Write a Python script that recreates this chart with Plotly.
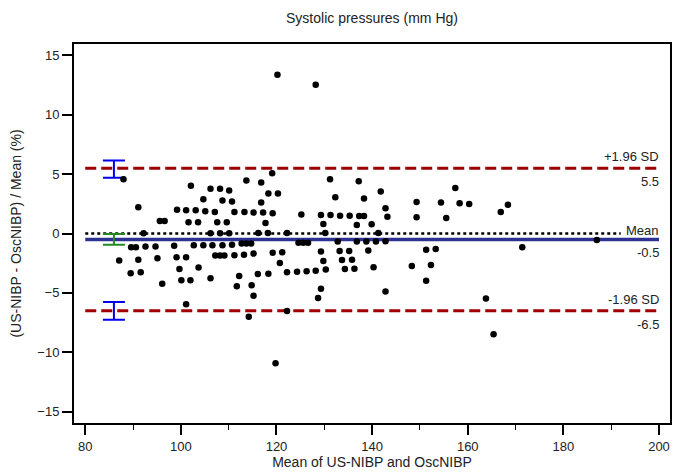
import plotly.graph_objects as go

# Scatter data: mean of the two methods (x) and percentage difference (y)
mean_bp = [
    88.0, 102.1, 106.2, 108.2, 110.1, 104.7, 108.7, 110.7, 91.1, 99.2, 101.1, 103.1, 105.1, 107.1, 111.2,
    95.6, 96.6, 101.6, 103.6, 107.6, 109.6, 92.2, 106.2, 108.2, 110.1,
    89.6, 90.6, 92.6, 94.7, 98.6, 102.7, 104.7, 106.6, 108.7, 110.7,
    87.1, 91.1, 95.1, 99.1, 101.1, 107.2, 108.2, 109.1, 111.2,
    99.7, 103.7, 89.5, 91.6, 100.1, 102.0, 106.2, 111.7, 112.2, 96.1, 101.1,
    119.1, 113.7, 116.8, 131.2, 137.2, 118.3, 120.3, 116.8, 132.3, 138.3, 141.8, 142.8,
    113.3, 115.2, 117.2, 119.2, 125.2, 129.3, 131.3, 133.3, 135.3, 137.3, 138.3, 143.2,
    117.7, 129.8, 136.8, 139.9,
    116.2, 118.2, 122.2, 130.2, 141.3,
    112.7, 113.7, 114.7, 124.6, 125.6, 126.6, 132.8, 136.8, 138.8, 140.8, 142.8,
    113.2, 115.2, 119.2, 121.2, 129.3, 133.2, 135.2, 139.2,
    120.7, 129.8, 133.7, 135.8, 130.3, 134.3, 136.3, 140.3,
    116.1, 118.3, 122.2, 124.3, 126.3, 128.2,
    114.8, 115.2, 129.3, 128.7, 142.8, 114.2, 122.2,
    157.4, 149.3, 154.4, 158.3, 160.3, 168.4, 166.9, 149.3, 155.5,
    171.4, 151.3, 153.3, 148.3, 152.3, 151.3, 163.8,
    120.2, 128.2, 119.8, 165.4, 187.0,
]
diff_pct = [
    4.57, 4.01, 3.76, 3.76, 3.62, 2.89, 2.77, 2.69, 2.21, 1.99, 1.96, 1.96, 1.88, 1.82, 1.82,
    1.06, 1.06, 0.95, 0.95, 0.95, 0.95, 0.03, 0.02, 0.02, 0.03,
    -1.15, -1.15, -1.1, -1.1, -1.04, -0.99, -0.99, -0.99, -0.99, -0.95,
    -2.28, -2.2, -2.08, -2.0, -2.0, -1.86, -1.86, -1.86, -1.84,
    -2.98, -2.87, -3.35, -3.26, -3.93, -3.93, -3.77, -4.44, -3.57, -4.22, -5.96,
    5.08, 4.46, 4.29, 4.57, 4.4, 3.36, 3.36, 2.6, 3.06, 2.94, 3.53, 2.13,
    1.82, 1.76, 1.76, 1.71, 1.59, 1.55, 1.55, 1.5, 1.5, 1.48, 1.48, 1.42,
    0.89, 0.81, 0.72, 0.78,
    0.04, 0.04, 0.04, 0.04, 0.04,
    -0.85, -0.85, -0.85, -0.77, -0.77, -0.77, -0.68, -0.68, -0.68, -0.68, -0.66,
    -1.78, -1.69, -1.63, -1.58, -1.52, -1.47, -1.47, -1.44,
    -2.48, -2.31, -2.22, -2.2, -3.04, -2.98, -2.96, -2.84,
    -3.4, -3.38, -3.26, -3.21, -3.18, -3.13,
    -4.36, -5.23, -4.64, -5.43, -4.89, -7.0, -6.52,
    3.82, 2.66, 2.6, 2.55, 2.49, 2.41, 1.82, 1.37, 1.31,
    -1.15, -1.36, -1.3, -2.73, -2.65, -3.97, -5.48,
    13.36, 12.52, -10.93, -8.48, -0.54,
]

# Bland-Altman summary values
bias = -0.5
upper_loa = 5.5
lower_loa = -6.5
line_x = [80, 200]

# Confidence intervals (drawn at the left)
ci_x = 86
ci_centers = [5.42, -0.5, -6.52]
ci_half = [0.72, 0.45, 0.75]
ci_colors = ["#0000ee", "#228b22", "#0000ee"]

x_ticks = [80, 100, 120, 140, 160, 180, 200]
y_ticks = [-15, -10, -5, 0, 5, 10, 15]

FONT = "Liberation Sans, Arial, sans-serif"
RED = "#a00000"
NAVY = "#2e3192"

fig = go.Figure()

# zero line (dotted)
fig.add_trace(go.Scatter(x=[80, 192], y=[0, 0], mode="lines",
                         line=dict(color="black", width=2.5, dash="3px,3px"),
                         hoverinfo="skip", showlegend=False))
# mean line
fig.add_trace(go.Scatter(x=line_x, y=[bias, bias], mode="lines",
                         line=dict(color=NAVY, width=3.5),
                         hoverinfo="skip", showlegend=False))
# limits of agreement
for v in (upper_loa, lower_loa):
    fig.add_trace(go.Scatter(x=line_x, y=[v, v], mode="lines",
                             line=dict(color=RED, width=3, dash="11px,5px"),
                             hoverinfo="skip", showlegend=False))

# CI bars
for c, h, col in zip(ci_centers, ci_half, ci_colors):
    fig.add_trace(go.Scatter(x=[ci_x], y=[c], mode="markers",
                             marker=dict(size=1, color="rgba(0,0,0,0)"),
                             error_y=dict(type="data", array=[h], color=col,
                                          thickness=2, width=11),
                             hoverinfo="skip", showlegend=False))

# points
fig.add_trace(go.Scatter(x=mean_bp, y=diff_pct, mode="markers",
                         marker=dict(color="black", size=6.5),
                         showlegend=False))

ann_font = dict(family=FONT, size=13, color="#222222")
labels = [
    ("+1.96 SD", upper_loa, "bottom", 2),
    ("5.5", upper_loa, "top", -4),
    ("Mean", 0, "bottom", -6),
    ("-0.5", bias, "top", -4),
    ("-1.96 SD", lower_loa, "bottom", 2),
    ("-6.5", lower_loa, "top", -4),
]
for txt, yv, anc, ys in labels:
    fig.add_annotation(x=200.5, y=yv, text=txt, showarrow=False,
                       xanchor="right", yanchor=anc, yshift=ys, font=ann_font)

fig.update_layout(
    width=686, height=473,
    margin=dict(l=74, r=16, t=44, b=50, autoexpand=False),
    paper_bgcolor="white", plot_bgcolor="white",
    font=dict(family=FONT, size=13, color="#222222"),
    title=dict(text="Systolic pressures (mm Hg)", x=0.5, xref="paper",
               y=1 - 18 / 473, yanchor="middle", font=dict(size=14)),
    showlegend=False,
)
fig.update_xaxes(range=[77.65, 202.3], tickvals=x_ticks, ticks="outside",
                 ticklen=10, tickwidth=1.5, tickcolor="black", automargin=False,
                 minor=dict(dtick=10, ticks="outside", ticklen=5, tickwidth=1, tickcolor="black"),
                 showline=True, mirror=True, linecolor="black", linewidth=2,
                 showgrid=False, zeroline=False,
                 title=dict(text="Mean of US-NIBP and OscNIBP", standoff=2, font=dict(size=14)))
fig.update_yaxes(range=[-15.95, 15.95], tickvals=y_ticks, ticks="outside",
                 ticklen=10, tickwidth=1.5, tickcolor="black", automargin=False,
                 showline=True, mirror=True, linecolor="black", linewidth=2,
                 showgrid=False, zeroline=False,
                 title=dict(text="(US-NIBP - OscNIBP) / Mean (%)", standoff=12, font=dict(size=14)))

fig.write_html("out.html")
